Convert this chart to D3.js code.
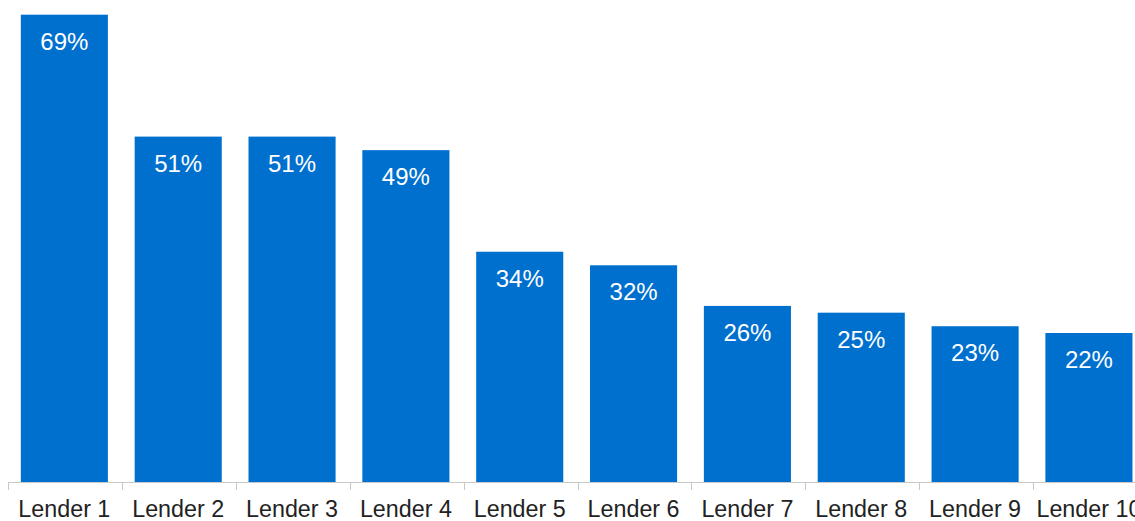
<!DOCTYPE html>
<html>
<head>
<meta charset="utf-8">
<script src="https://cdn.jsdelivr.net/npm/d3@7"></script>
<style>
  html, body { margin: 0; padding: 0; background: #ffffff; overflow: hidden; }
  svg { display: block; }
</style>
</head>
<body>
<svg id="chart" width="1135" height="521"></svg>
<script>
// Share of respondents per lender
const lenders = ["Lender 1", "Lender 2", "Lender 3", "Lender 4", "Lender 5",
                 "Lender 6", "Lender 7", "Lender 8", "Lender 9", "Lender 10"];
const shares = [69, 51, 51, 49, 34, 32, 26, 25, 23, 22];

const svg = d3.select("#chart");
const baseline = 482;
const font = "Arial, 'Liberation Sans', sans-serif";

const x = d3.scaleBand()
  .domain(lenders)
  .range([8.3, 8.3 + 113.67 * lenders.length])
  .paddingInner(0.235)
  .paddingOuter(0.11);

const y = d3.scaleLinear()
  .domain([0, 69])
  .range([baseline, 14.7]);

const data = lenders.map((name, i) => ({ name, value: shares[i] }));

// Bars
svg.append("g")
  .selectAll("rect")
  .data(data)
  .join("rect")
  .attr("x", d => x(d.name))
  .attr("y", d => y(d.value))
  .attr("width", x.bandwidth())
  .attr("height", d => baseline - y(d.value))
  .attr("fill", "#0070cf");

// Value labels inside the top of each bar
svg.append("g")
  .selectAll("text")
  .data(data)
  .join("text")
  .attr("x", d => x(d.name) + x.bandwidth() / 2)
  .attr("y", d => y(d.value) + 35)
  .attr("text-anchor", "middle")
  .attr("fill", "#ffffff")
  .style("font-family", font)
  .style("font-size", "24px")
  .text(d => d3.format(".0f")(d.value) + "%");

// Category axis with ticks between bands
const axisG = svg.append("g");
const step = x.step();
const r = x.range();
axisG.append("line")
  .attr("x1", r[0]).attr("x2", r[1])
  .attr("y1", baseline + 0.5).attr("y2", baseline + 0.5)
  .attr("stroke", "#c8c8c8").attr("stroke-width", 1);

const tickPos = d3.range(lenders.length + 1).map(i => r[0] + i * step);
axisG.selectAll("line.tick")
  .data(tickPos)
  .join("line")
  .attr("class", "tick")
  .attr("x1", d => Math.round(d) + 0.5).attr("x2", d => Math.round(d) + 0.5)
  .attr("y1", baseline).attr("y2", baseline + 8)
  .attr("stroke", "#c8c8c8").attr("stroke-width", 1);

axisG.selectAll("text")
  .data(lenders)
  .join("text")
  .attr("x", d => x(d) + x.bandwidth() / 2)
  .attr("y", 517)
  .attr("text-anchor", "middle")
  .attr("fill", "#222222")
  .style("font-family", font)
  .style("font-size", "23.3px")
  .text(d => d);
</script>
</body>
</html>
